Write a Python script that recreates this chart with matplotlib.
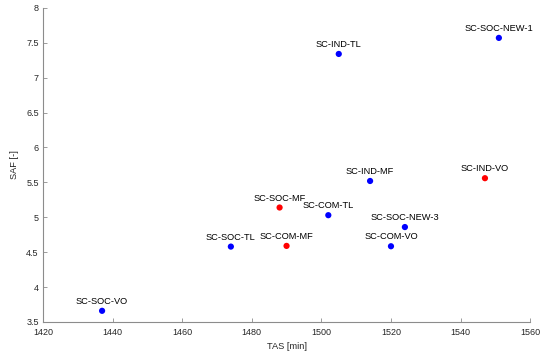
import matplotlib
matplotlib.use("Agg")
import matplotlib.pyplot as plt

plt.rcParams['font.family'] = ['Liberation Sans', 'DejaVu Sans']

# scenario data
names = ['SC-SOC-VO', 'SC-SOC-TL', 'SC-SOC-MF', 'SC-COM-MF', 'SC-COM-TL',
         'SC-SOC-NEW-3', 'SC-COM-VO', 'SC-IND-MF', 'SC-IND-VO', 'SC-IND-TL',
         'SC-SOC-NEW-1']
tas = [1437, 1474, 1488, 1490, 1502, 1524, 1520, 1514, 1547, 1505, 1551]
saf = [3.66, 4.58, 5.14, 4.59, 5.03, 4.86, 4.585, 5.52, 5.56, 7.34, 7.57]
colors = ['blue', 'blue', 'red', 'red', 'blue', 'blue', 'blue', 'blue',
          'red', 'blue', 'blue']

xticks = list(range(1420, 1561, 20))
yticks = [3.5, 4, 4.5, 5, 5.5, 6, 6.5, 7, 7.5, 8]

fig = plt.figure(figsize=(5.5, 3.58), dpi=100)
ax = fig.add_axes([0.078, 0.1006, 0.886, 0.8774])

ax.scatter(tas, saf, c=colors, s=20, zorder=3, linewidths=0)
for n, x, y in zip(names, tas, saf):
    ax.annotate(n, (x, y), xytext=(0, 3.5), textcoords='offset points',
                ha='center', va='bottom', fontsize=6.7, color='black')

ax.set_xlim(1420, 1560)
ax.set_ylim(3.5, 8)
ax.set_xticks(xticks)
ax.set_yticks(yticks)
ax.set_yticklabels([f'{v:g}' for v in yticks])
ax.set_xlabel('TAS [min]', fontsize=6.7, color='#262626', labelpad=4)
ax.set_ylabel('SAF [-]', fontsize=6.7, color='#262626', labelpad=5)

for s in ['top', 'right']:
    ax.spines[s].set_visible(False)
for s in ['left', 'bottom']:
    ax.spines[s].set_color('#8c8c8c')
    ax.spines[s].set_linewidth(0.8)
ax.tick_params(direction='in', length=3, width=0.6, color='#8c8c8c',
               labelsize=6.5, labelcolor='#262626')
ax.tick_params(axis='x', pad=4)
ax.tick_params(axis='y', pad=3)

fig.savefig('out.png', dpi=100)
